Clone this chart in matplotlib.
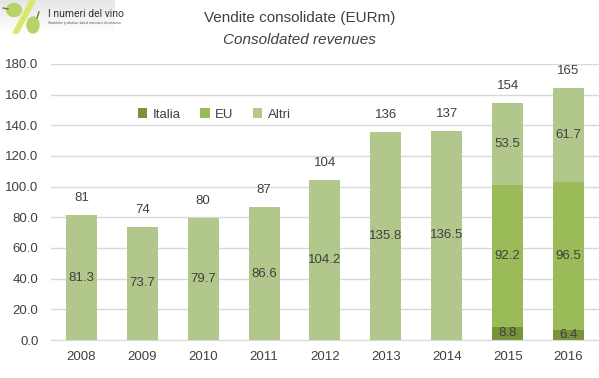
import matplotlib.pyplot as plt
import numpy as np
from matplotlib.patches import Ellipse, Polygon

plt.rcParams['font.family'] = ['Liberation Sans', 'DejaVu Sans']

years = ['2008', '2009', '2010', '2011', '2012', '2013', '2014', '2015', '2016']
italia = [0, 0, 0, 0, 0, 0, 0, 8.8, 6.4]
eu = [0, 0, 0, 0, 0, 0, 0, 92.2, 96.5]
altri = [81.3, 73.7, 79.7, 86.6, 104.2, 135.8, 136.5, 53.5, 61.7]
totals = [81, 74, 80, 87, 104, 136, 137, 154, 165]

col_it = '#77933c'
col_eu = '#9bbb59'
col_al = '#b2c78b'
txt = '#404040'

fig = plt.figure(figsize=(5.99, 3.78), dpi=100)
ax = fig.add_axes([0.085, 0.1005, 0.917, 0.7305])

x = np.arange(len(years))
w = 0.51
b1 = ax.bar(x, italia, w, color=col_it, label='Italia')
b2 = ax.bar(x, eu, w, bottom=italia, color=col_eu, label='EU')
bot = np.array(italia) + np.array(eu)
b3 = ax.bar(x, altri, w, bottom=bot, color=col_al, label='Altri')

# segment labels (skip empty ones)
for vals, base in [(italia, np.zeros(len(x))), (eu, np.array(italia)), (altri, bot)]:
    for i, v in enumerate(vals):
        if v > 0:
            ax.text(x[i], base[i] + v / 2, f'{v:.1f}', ha='center', va='center',
                    fontsize=9.5, color=txt)

# totals above bars
tops = bot + np.array(altri)
for i, t in enumerate(totals):
    ax.text(x[i], tops[i] + 11, f'{t}', ha='center', va='center', fontsize=9.5, color=txt)

ax.set_xlim(-0.5, 8.52)
ax.set_ylim(0, 180)
ax.set_yticks(np.arange(0, 181, 20))
ax.set_yticklabels([f'{v:.1f}' for v in np.arange(0, 181, 20)])
ax.set_xticks(x)
ax.set_xticklabels(years)
ax.tick_params(axis='both', length=0, labelsize=9.5, colors=txt)
ax.tick_params(axis='y', pad=9)
ax.tick_params(axis='x', pad=8)
ax.yaxis.grid(True, color='#d9d9d9', lw=1)
ax.set_axisbelow(True)
for s in ['top', 'right', 'left']:
    ax.spines[s].set_visible(False)
ax.spines['bottom'].set_color('#d9d9d9')

leg = ax.legend(loc='upper left', bbox_to_anchor=(0.142, 0.872), ncol=3, frameon=True,
                fontsize=9.5, handlelength=0.7, handleheight=0.7, columnspacing=1.5,
                handletextpad=0.4, borderpad=0.2)
leg.get_frame().set_edgecolor('white')
leg.get_frame().set_facecolor('white')
leg.get_frame().set_alpha(1)
for t in leg.get_texts():
    t.set_color(txt)

fig.text(0.5, 0.952, 'Vendite consolidate (EURm)', ha='center', va='center',
         fontsize=11, color=txt)
fig.text(0.5, 0.893, 'Consoldated revenues', ha='center', va='center',
         fontsize=11, color=txt, style='italic')

# logo (pixel-like coordinates, y downwards)
lax = fig.add_axes([0.0, 1 - 34 / 378, 115 / 599, 34 / 378])
lax.axis('off')
grad = np.linspace(0.90, 1.0, 50).reshape(-1, 1)
lax.imshow(grad, extent=[0, 115, 34, 0], cmap='gray', vmin=0, vmax=1, aspect='auto')
lax.add_patch(Polygon([[13, 33], [18, 33], [35, 1], [30, 1]], color='#d8e86a'))
lax.add_patch(Ellipse((14, 10), 15, 13, color='#b8d36a'))
lax.add_patch(Ellipse((33, 25), 12, 16, color='#b8d36a'))
lax.plot([3, 8], [8, 9], color='#8a6a3a', lw=1)
lax.plot([37, 39], [18, 12], color='#8a6a3a', lw=1)
lax.text(48, 14, 'I numeri del vino', fontsize=7.5, color='#333333', va='center',
         family=['Roboto', 'DejaVu Sans'])
lax.text(48, 23, 'Statistiche produttive, dati di mercato e di consumo', fontsize=2.3,
         color='#555555', va='center')
lax.set_xlim(0, 115)
lax.set_ylim(34, 0)

fig.savefig('out.png', dpi=100)
